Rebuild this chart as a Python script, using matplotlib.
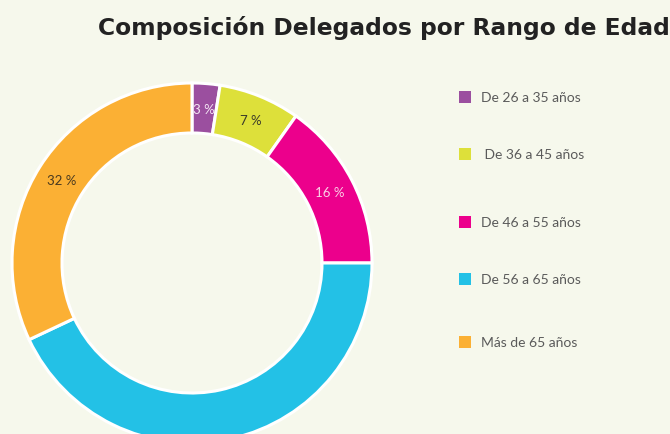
import matplotlib.pyplot as plt
from matplotlib.patches import Rectangle

# shares per age range (percent)
categories = ["De 26 a 35 años", " De 36 a 45 años", "De 46 a 55 años",
              "De 56 a 65 años", "Más de 65 años"]
shares = [2.5, 7.3, 15.2, 43.0, 32.0]
pct_labels = ["3 %", "7 %", "16 %", "", "32 %"]
colors = ["#9B4F9F", "#DDE03A", "#EC008C", "#23C1E6", "#FBB034"]
label_colors = ["#F4E6F4", "#3A3A2A", "#FBD0E6", "#FFFFFF", "#4A3A20"]

bg = "#F6F8EC"
W, H = 670, 435

fig = plt.figure(figsize=(W / 100, H / 100), dpi=100, facecolor=bg)

# donut: center (192, 264) px, outer radius 180 px
cx, cy, r = 192, 264, 180
ax = fig.add_axes([(cx - r) / W, (H - cy - r) / H, 2 * r / W, 2 * r / H])
ax.set_facecolor(bg)
wedges, texts = ax.pie(shares, colors=colors, startangle=90, counterclock=False,
                       radius=1, labels=pct_labels, labeldistance=0.86,
                       wedgeprops=dict(width=50 / 180, edgecolor="white", linewidth=2.2),
                       textprops=dict(fontsize=9.5, family="Lato"))
for t, c in zip(texts, label_colors):
    t.set_color(c)
    t.set_horizontalalignment("center")
    t.set_verticalalignment("center")
ax.set_xlim(-1, 1)
ax.set_ylim(-1, 1)
ax.axis("off")

fig.text(98 / W, 1 - 28 / H, "Composición Delegados por Rango de Edad",
         fontsize=16.8, fontweight="bold", family="DejaVu Sans", color="#222222",
         ha="left", va="center")

# legend, hand placed like the original
rows_y = [98, 155, 223, 280, 343]
for name, col, y in zip(categories, colors, rows_y):
    fig.patches.append(Rectangle((459 / W, 1 - (y + 6) / H), 12 / W, 12 / H,
                                 transform=fig.transFigure, facecolor=col,
                                 edgecolor="none"))
    fig.text(481 / W, 1 - y / H, name, fontsize=10, family="Lato",
             color="#5A5A5A", ha="left", va="center")

fig.savefig("out.png", dpi=100, facecolor=bg)
